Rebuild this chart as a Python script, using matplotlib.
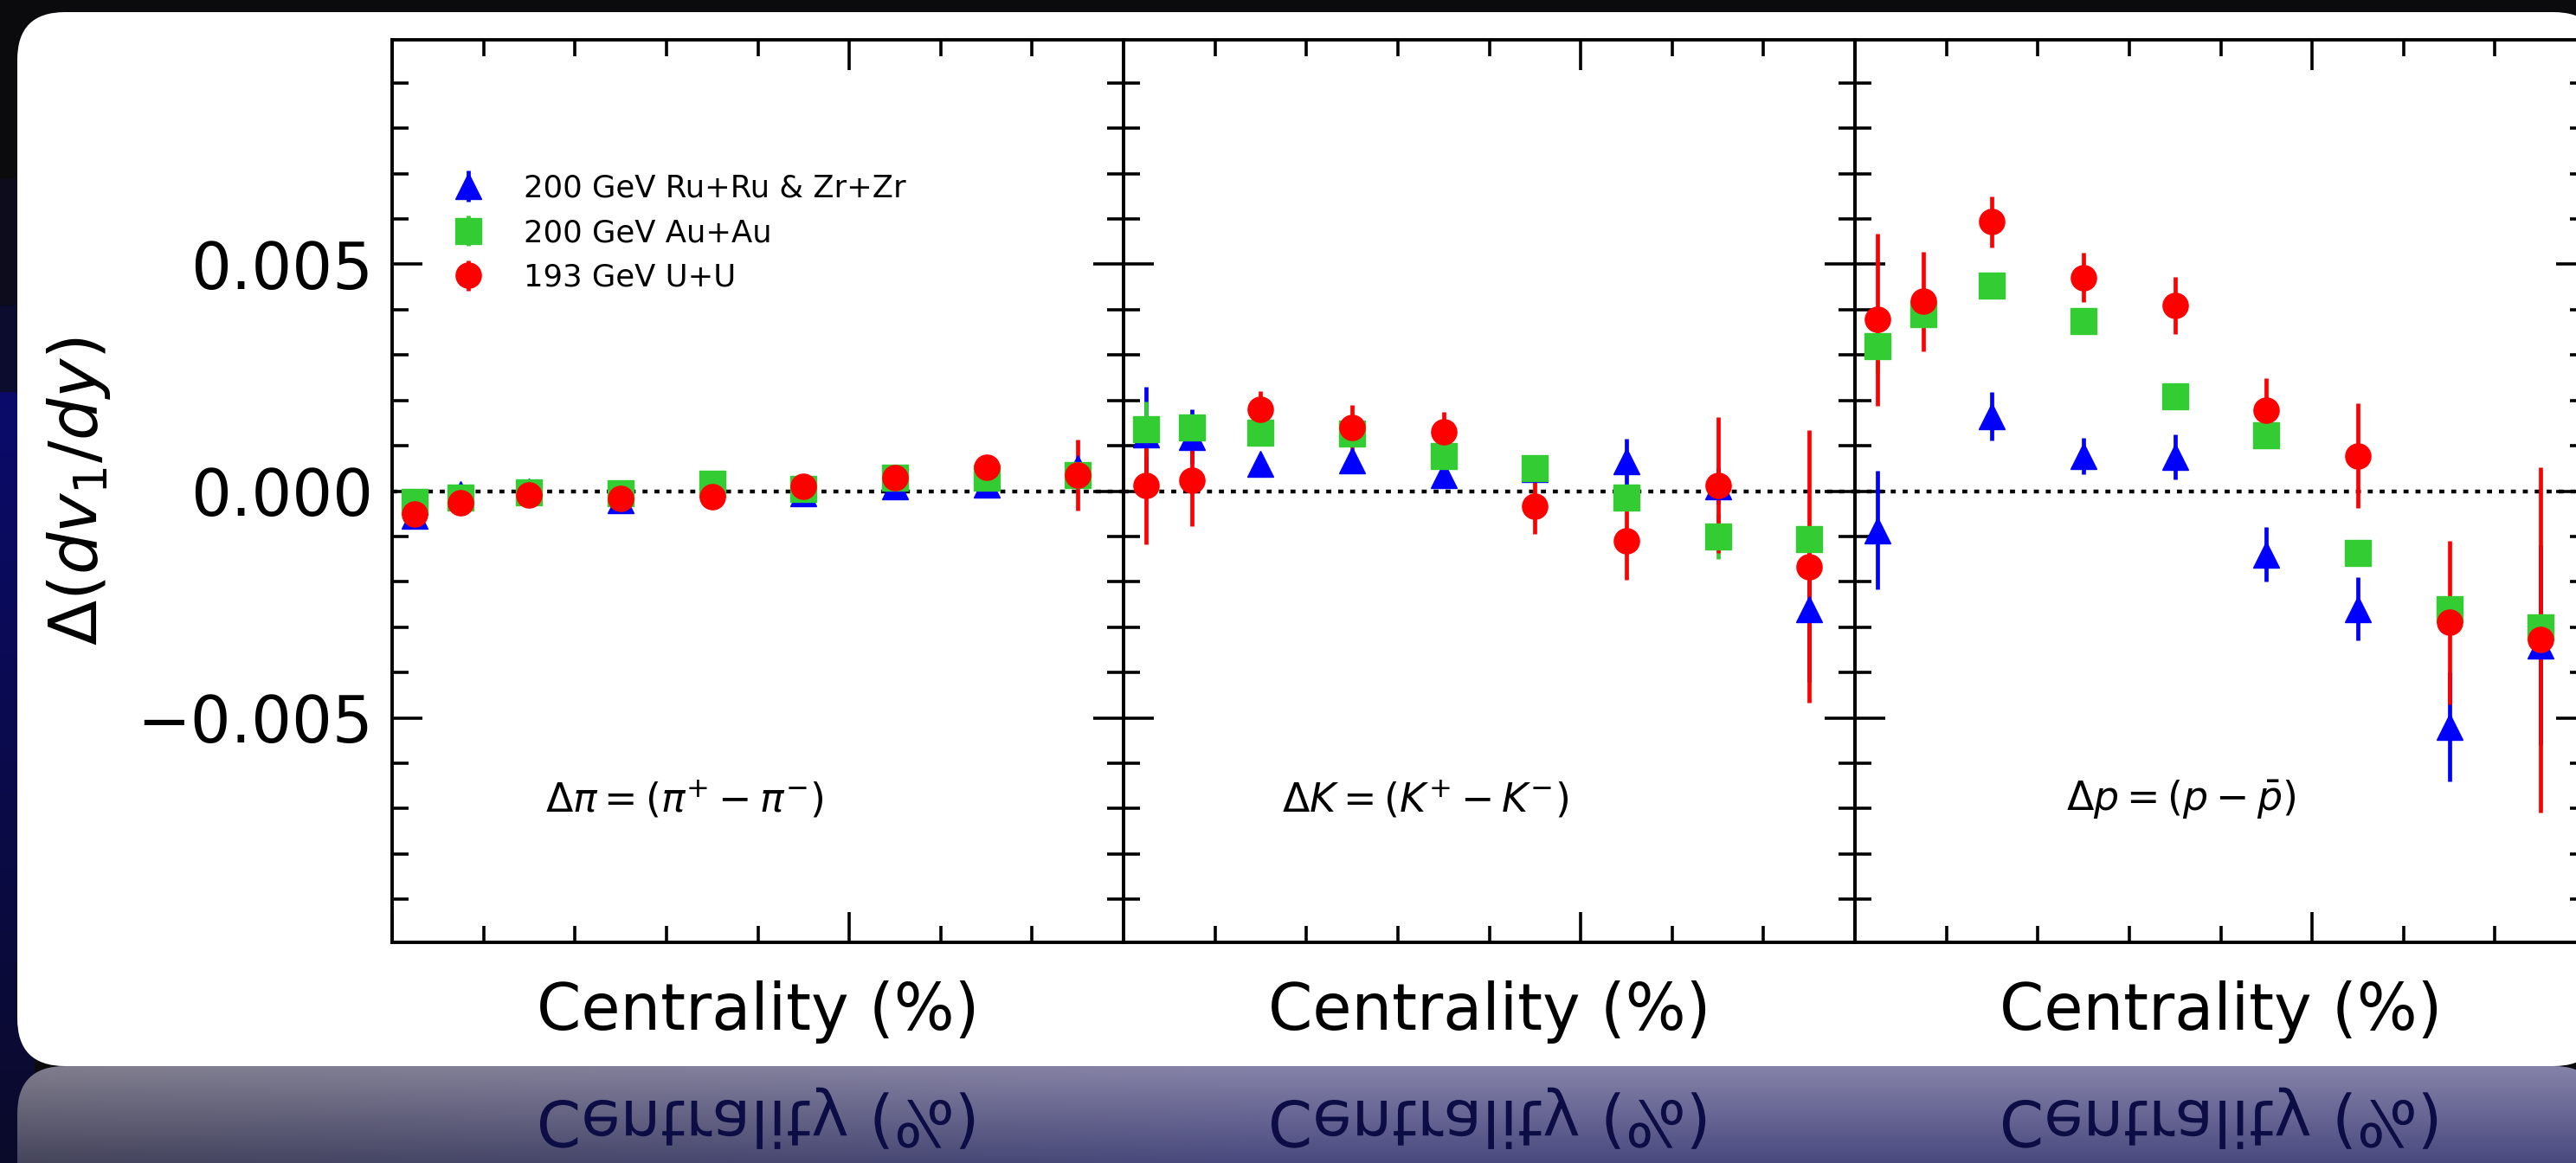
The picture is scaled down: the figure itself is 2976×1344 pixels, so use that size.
import numpy as np
import matplotlib.pyplot as plt
import matplotlib.patheffects as pe
from matplotlib.patches import FancyBboxPatch, Rectangle
from matplotlib.ticker import MultipleLocator
from matplotlib.transforms import Affine2D

# centrality bin centres (%)
cent = [2.5, 7.5, 15, 25, 35, 45, 55, 65, 75]

# pions
ru_pi = [-0.00055, -0.00006, 0.0, -0.0002, 0.00017, -0.00005, 0.0001, 0.00015, 0.0005]
ru_pi_err = [0.0001, 0.0001, 0.0001, 0.0001, 0.0001, 0.0001, 0.0001, 0.0001, 0.0002]
au_pi = [-0.00023, -0.00015, -0.00002, -0.00004, 0.00017, 0.00004, 0.00029, 0.0003, 0.00036]
au_pi_err = [0.0001, 0.0001, 0.0001, 0.0001, 0.0001, 0.0001, 0.0001, 0.0001, 0.0001]
uu_pi = [-0.0005, -0.00025, -0.00008, -0.00017, -0.00013, 0.00011, 0.00029, 0.00053, 0.00036]
uu_pi_err = [0.0001, 0.0001, 0.0001, 0.0001, 0.0001, 0.0001, 0.0001, 0.00015, 0.00078]

# kaons
ru_k = [0.00125, 0.0012, 0.0006, 0.00067, 0.00035, 0.00048, 0.00065, 0.0001, -0.0026]
ru_k_err = [0.00105, 0.0006, 0.0002, 0.00015, 0.00015, 0.0002, 0.0005, 0.0004, 0.0016]
au_k = [0.00137, 0.00141, 0.00128, 0.00126, 0.00078, 0.0005, -0.00015, -0.001, -0.00105]
au_k_err = [0.0006, 0.0002, 0.0002, 0.0002, 0.0002, 0.0002, 0.0002, 0.0005, 0.0003]
uu_k = [0.00013, 0.00023, 0.0018, 0.0014, 0.0013, -0.00034, -0.0011, 0.00013, -0.00166]
uu_k_err = [0.0013, 0.001, 0.0004, 0.0005, 0.00045, 0.0006, 0.00085, 0.0015, 0.003]

# protons
ru_p = [-0.00086, 0.004, 0.00165, 0.00078, 0.00075, -0.0014, -0.0026, -0.0052, -0.0034]
ru_p_err = [0.0013, 0.0003, 0.00053, 0.0004, 0.0005, 0.0006, 0.0007, 0.0012, 0.0022]
au_p = [0.0032, 0.0039, 0.00454, 0.00374, 0.00208, 0.00124, -0.00137, -0.0026, -0.003]
au_p_err = [0.0006, 0.0002, 0.0002, 0.0002, 0.0002, 0.0002, 0.0002, 0.0002, 0.0002]
uu_p = [0.00378, 0.00418, 0.00594, 0.00471, 0.0041, 0.00179, 0.00078, -0.0029, -0.00328]
uu_p_err = [0.0019, 0.0011, 0.00056, 0.00055, 0.00063, 0.0007, 0.00115, 0.0018, 0.0038]

labels = ['200 GeV Ru+Ru & Zr+Zr', '200 GeV Au+Au', '193 GeV U+U']
panel_text = [r'$\Delta\pi = (\pi^{+} - \pi^{-})$', r'$\Delta K = (K^{+} - K^{-})$',
              r'$\Delta p = (p - \bar{p})$']
panels = [
    [(ru_pi, ru_pi_err), (au_pi, au_pi_err), (uu_pi, uu_pi_err)],
    [(ru_k, ru_k_err), (au_k, au_k_err), (uu_k, uu_k_err)],
    [(ru_p, ru_p_err), (au_p, au_p_err), (uu_p, uu_p_err)],
]
styles = [('^', 'blue', 22), ('s', '#33cc33', 21), ('o', 'red', 21)]


class Flip(pe.AbstractPathEffect):
    # draws text mirrored about its baseline (slide reflection)
    def draw_path(self, renderer, gc, tpath, affine, rgbFace=None):
        renderer.draw_path(gc, tpath, Affine2D().scale(1, -1) + affine, rgbFace)


W, H = 2976, 1344
fig = plt.figure(figsize=(W / 100, H / 100), dpi=100, facecolor='#0b0b0e')

# slide background, white card and its reflection
bg = fig.add_axes([0, 0, 1, 1])
bg.axis('off')

t = np.linspace(0, 1, 50)[:, None, None]
strip = np.array([0.04, 0.04, 0.42]) * (1 - t) + np.array([0.04, 0.04, 0.17]) * t
bg.imshow(strip, extent=[0, 40, H, 452], aspect='auto', zorder=0)
bg.add_patch(Rectangle((0, 207), 40, 146, color='#0c0c1c', zorder=0))
bg.add_patch(Rectangle((0, 353), 40, 99, color='#0c0c2e', zorder=0))

card = FancyBboxPatch((20, 14), 2985, 1218, boxstyle='round,pad=0,rounding_size=55',
                      fc='white', ec='none', zorder=2)
bg.add_patch(card)

refl_shape = FancyBboxPatch((20, 1232), 2985, 400, boxstyle='round,pad=0,rounding_size=55',
                            fc='none', ec='none', transform=bg.transData)
ty = np.linspace(0, 1, 40)[:, None, None]
sx = np.clip(np.linspace(0, 1, 60) / 0.5, 0, 1)[None, :, None]
top = np.array([0.50, 0.49, 0.55]) * (1 - sx) + np.array([0.52, 0.51, 0.66]) * sx
bot = np.array([0.27, 0.27, 0.36]) * (1 - sx) + np.array([0.29, 0.29, 0.50]) * sx
refl = top * (1 - ty) + bot * ty
im = bg.imshow(refl, extent=[0, W, H, 1232], aspect='auto', interpolation='bilinear', zorder=1)
im.set_clip_path(refl_shape)
bg.set_xlim(0, W)
bg.set_ylim(H, 0)

bottom = 1 - 1089 / H
height = 1043 / H
axes = []
for i in range(3):
    ax = fig.add_axes([(453 + i * 845) / W, bottom, 845 / W, height])
    ax.set_facecolor('none')
    for k, (vals, errs) in enumerate(panels[i]):
        m, c, ms = styles[k]
        ax.errorbar(cent, vals, yerr=errs, fmt=m, color=c, mec=c, ms=ms,
                    elinewidth=3.4, capsize=0, label=labels[k])
    ax.axhline(0, color='black', ls=(0, (1.3, 1.8)), lw=3.2, zorder=0.5)
    ax.set_xlim(0, 80)
    ax.set_ylim(-0.00995, 0.00995)
    ax.xaxis.set_major_locator(MultipleLocator(50))
    ax.xaxis.set_minor_locator(MultipleLocator(10))
    ax.yaxis.set_major_locator(MultipleLocator(0.005))
    ax.yaxis.set_minor_locator(MultipleLocator(0.001))
    ax.tick_params(which='both', direction='in', top=True, right=True, width=2.6,
                   labelbottom=False, labelleft=(i == 0), labelsize=53, pad=16)
    ax.tick_params(which='major', length=25)
    ax.tick_params(which='minor', length=14)
    for s in ax.spines.values():
        s.set_linewidth(2.8)
    ax.set_xlabel('Centrality (%)', fontsize=53)
    ax.xaxis.set_label_coords(0.5, (1089 - 1190) / 1043)
    ax.xaxis.label.set_va('baseline')
    ax.text([0.40, 0.412, 0.446][i], 0.158, panel_text[i], transform=ax.transAxes,
            ha='center', va='center', fontsize=33)
    # reflected axis label below the card
    bg.text((453 + i * 845 + 422.5), 1272, 'Centrality (%)', fontsize=53, ha='center',
            va='baseline', color='#0d0d45', path_effects=[Flip()], zorder=3)
    axes.append(ax)

axes[0].set_ylabel(r'$\Delta(dv_1/dy)$', fontsize=55)
axes[0].yaxis.set_label_coords(-0.428, 0.5)
axes[0].yaxis.label.set_va('center')

axes[0].legend(loc='upper left', bbox_to_anchor=(0.083, 0.852), frameon=False, fontsize=25.5,
               handlelength=1.0, handletextpad=1.3, labelspacing=0.5, borderpad=0,
               borderaxespad=0)

fig.savefig('out.png', dpi=100, facecolor=fig.get_facecolor())
